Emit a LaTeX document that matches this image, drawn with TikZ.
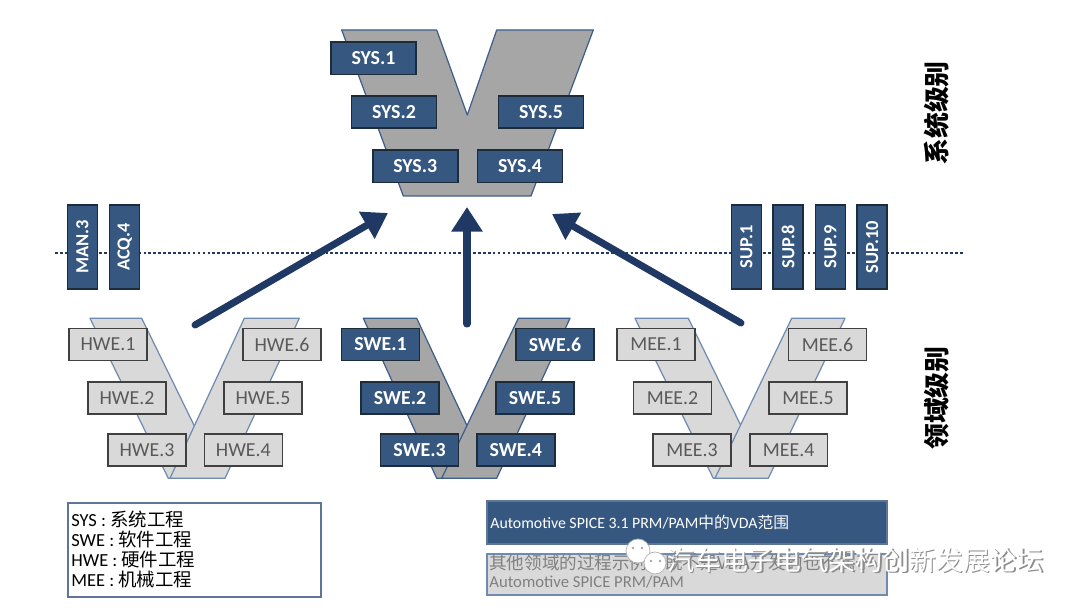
\documentclass[tikz,border=0pt]{standalone}
\usepackage{fontspec}
\setmainfont{Carlito}
\newfontfamily\cjk{Noto Sans CJK SC}
\usetikzlibrary{arrows.meta}
\definecolor{navy}{HTML}{1F3864}
\definecolor{boxblue}{HTML}{36577F}
\definecolor{boxedge}{HTML}{1E2B3A}
\definecolor{vdark}{HTML}{A6A6A6}
\definecolor{vlight}{HTML}{D9D9D9}
\definecolor{vedge}{HTML}{3E5F8A}
\definecolor{lightedge}{HTML}{6F8CB0}
\definecolor{greytext}{HTML}{595959}
\definecolor{legedge}{HTML}{5F7595}
\tikzset{
  px/.style={x=0.02cm,y=-0.02cm},
  sysbox/.style={draw=boxedge,line width=0.9pt,fill=boxblue,text=white,font=\bfseries\fontsize{11.3}{13}\selectfont,minimum width=1.7cm,minimum height=0.65cm,inner sep=0pt},
  swebox/.style={sysbox,minimum width=1.56cm,minimum height=0.64cm},
  hwebox/.style={draw=black!75,line width=0.9pt,fill=vlight,text=greytext,font=\fontsize{11.3}{13}\selectfont,minimum width=1.56cm,minimum height=0.64cm,inner sep=0pt},
  vbox/.style={draw=boxedge,line width=0.9pt,fill=boxblue,text=white,font=\bfseries\fontsize{10.5}{12}\selectfont,minimum width=0.6cm,minimum height=1.68cm,inner sep=0pt},
  vtext/.style={rotate=90,text=white,font=\bfseries\fontsize{10.5}{12}\selectfont,inner sep=0pt},
  darkV/.style={fill=vdark,draw=vedge,line width=0.7pt,line join=round},
  lightV/.style={fill=vlight,draw=lightedge,line width=0.7pt,line join=round},
  bigarrow/.style={draw=navy,line width=4pt,line cap=round,-{Triangle[length=14pt,width=17pt]}},
  levellabel/.style={rotate=90,font=\cjk\bfseries\fontsize{14.7}{16}\selectfont,inner sep=0pt},
}
\begin{document}
\begin{tikzpicture}[px]
\useasboundingbox (0,0) rectangle (1080,608);
\fill[white] (0,0) rectangle (1080,608);

% top system V
\path[darkV] (341.7,30) -- (436.7,30) -- (467.3,115) -- (496.7,30) -- (593.3,30) -- (531,196) -- (403.3,196) -- cycle;

% dotted line
\draw[navy,line width=1.6pt,dash pattern=on 1.5pt off 1.3pt] (55,253) -- (963,253);

% system boxes
\node[sysbox] (sys1) at (373.5,58.3) {SYS.1};
\node[sysbox] (sys2) at (394,112) {SYS.2};
\node[sysbox] (sys5) at (541,112) {SYS.5};
\node[sysbox] (sys3) at (415.3,166.3) {SYS.3};
\node[sysbox] (sys4) at (520,166.3) {SYS.4};

% vertical boxes
\node[vbox] (man3) at (82.5,247) {};
\node[vtext] at (man3) {MAN.3};
\node[vbox] (acq4) at (124.7,247) {};
\node[vtext] at (acq4) {ACQ.4};
\node[vbox] (sup1) at (746.3,247) {};
\node[vtext] at (sup1) {SUP.1};
\node[vbox] (sup8) at (788,247) {};
\node[vtext] at (sup8) {SUP.8};
\node[vbox] (sup9) at (830.3,247) {};
\node[vtext] at (sup9) {SUP.9};
\node[vbox] (sup10) at (872.2,247) {};
\node[vtext] at (sup10) {SUP.10};

% HWE V
\path[lightV] (90,318.3) -- (141.7,318.3) -- (220,478.3) -- (168.3,478.3) -- cycle;
\path[lightV] (244.3,318.3) -- (299.3,318.3) -- (225,478.3) -- (170,478.3) -- cycle;
% SWE V
\path[darkV] (363.3,318.3) -- (416.7,318.3) -- (491.7,478.3) -- (436.7,478.3) -- cycle;
\path[darkV] (518.3,318.3) -- (570,318.3) -- (496.7,478.3) -- (441.7,478.3) -- cycle;
% MEE V
\path[lightV] (635,318.3) -- (688.3,318.3) -- (766.7,478.3) -- (713.3,478.3) -- cycle;
\path[lightV] (791.7,318.3) -- (845,318.3) -- (768.3,478.3) -- (715,478.3) -- cycle;

% HWE boxes
\node[hwebox] (hwe1) at (108,344.5) {HWE.1};
\node[hwebox] (hwe6) at (282,344.5) {HWE.6};
\node[hwebox] (hwe2) at (127,398) {HWE.2};
\node[hwebox] (hwe5) at (263,398) {HWE.5};
\node[hwebox] (hwe3) at (147,450) {HWE.3};
\node[hwebox] (hwe4) at (243.3,450) {HWE.4};
% SWE boxes
\node[swebox] (swe1) at (380.5,344.5) {SWE.1};
\node[swebox] (swe6) at (555,344.5) {SWE.6};
\node[swebox] (swe2) at (400,398) {SWE.2};
\node[swebox] (swe5) at (535,398) {SWE.5};
\node[swebox] (swe3) at (419.5,450) {SWE.3};
\node[swebox] (swe4) at (515.8,450) {SWE.4};
% MEE boxes
\node[hwebox] (mee1) at (656,344.5) {MEE.1};
\node[hwebox] (mee6) at (827.5,344.5) {MEE.6};
\node[hwebox] (mee2) at (672.5,398) {MEE.2};
\node[hwebox] (mee5) at (808,398) {MEE.5};
\node[hwebox] (mee3) at (692,450) {MEE.3};
\node[hwebox] (mee4) at (788.7,450) {MEE.4};

% arrows
\coordinate (hwetail) at (195,325);
\coordinate (hwehead) at (388,213);
\coordinate (swetail) at (467,324);
\coordinate (swehead) at (467,207);
\coordinate (meetail) at (741,323);
\coordinate (meehead) at (552,214);
\draw[bigarrow] (hwetail) -- (hwehead);
\draw[bigarrow] (swetail) -- (swehead);
\draw[bigarrow] (meetail) -- (meehead);

% level labels
\node[levellabel] (syslevel) at (936.5,113) {系统级别};
\node[levellabel] (domlevel) at (936.5,398) {领域级别};

% legend
\node[draw=legedge,line width=0.9pt,minimum width=5.05cm,minimum height=1.87cm,inner sep=0pt] (legend) at (194.5,550) {};
\node[anchor=north west,align=left,inner sep=0pt,font=\fontsize{10.5}{11.3}\selectfont] (legtext) at (71,511)
 {SYS : {\cjk 系统工程}\\SWE : {\cjk 软件工程}\\HWE : {\cjk 硬件工程}\\MEE : {\cjk 机械工程}};

% VDA scope box
\node[draw=legedge,line width=0.8pt,fill=boxblue,minimum width=8cm,minimum height=0.86cm,inner sep=0pt] (vda) at (687,522.6) {};
\node[anchor=west,inner sep=0pt,text=white,font=\fontsize{9}{11}\selectfont] (vdatext) at (490,522) {Automotive SPICE 3.1 PRM/PAM{\cjk 中的}VDA{\cjk 范围}};
% other domain box
\node[draw=lightedge,line width=0.9pt,fill=vlight,minimum width=8cm,minimum height=0.82cm,inner sep=0pt] (other) at (687,574.5) {};
\node[anchor=west,inner sep=0pt,text=black!50,font=\cjk\fontsize{10}{12}\selectfont] (othertext1) at (489,563.5) {其他领域的过程示例，既不是VDA开发的也不属于};
\node[anchor=west,inner sep=0pt,text=black!50,font=\fontsize{9.5}{11}\selectfont] (othertext2) at (489,582) {Automotive SPICE PRM/PAM};

% watermark
\fill[white,draw=black!30,line width=0.4pt] (638,551) circle (12);
\fill[white,draw=black!30,line width=0.4pt] (655,563) circle (11);
\fill[black!35] (633,548) circle (1.4) (642,548) circle (1.4) (651,561) circle (1.4) (660,561) circle (1.4);
\node[anchor=west,inner sep=0pt,text=black!45,font=\cjk\fontsize{15.3}{17}\selectfont] at (668.6,561.6) {汽车电子电气架构创新发展论坛};
\node[anchor=west,inner sep=0pt,text=white,font=\cjk\fontsize{15.3}{17}\selectfont] (watermark) at (667,560) {汽车电子电气架构创新发展论坛};
\end{tikzpicture}
\end{document}
